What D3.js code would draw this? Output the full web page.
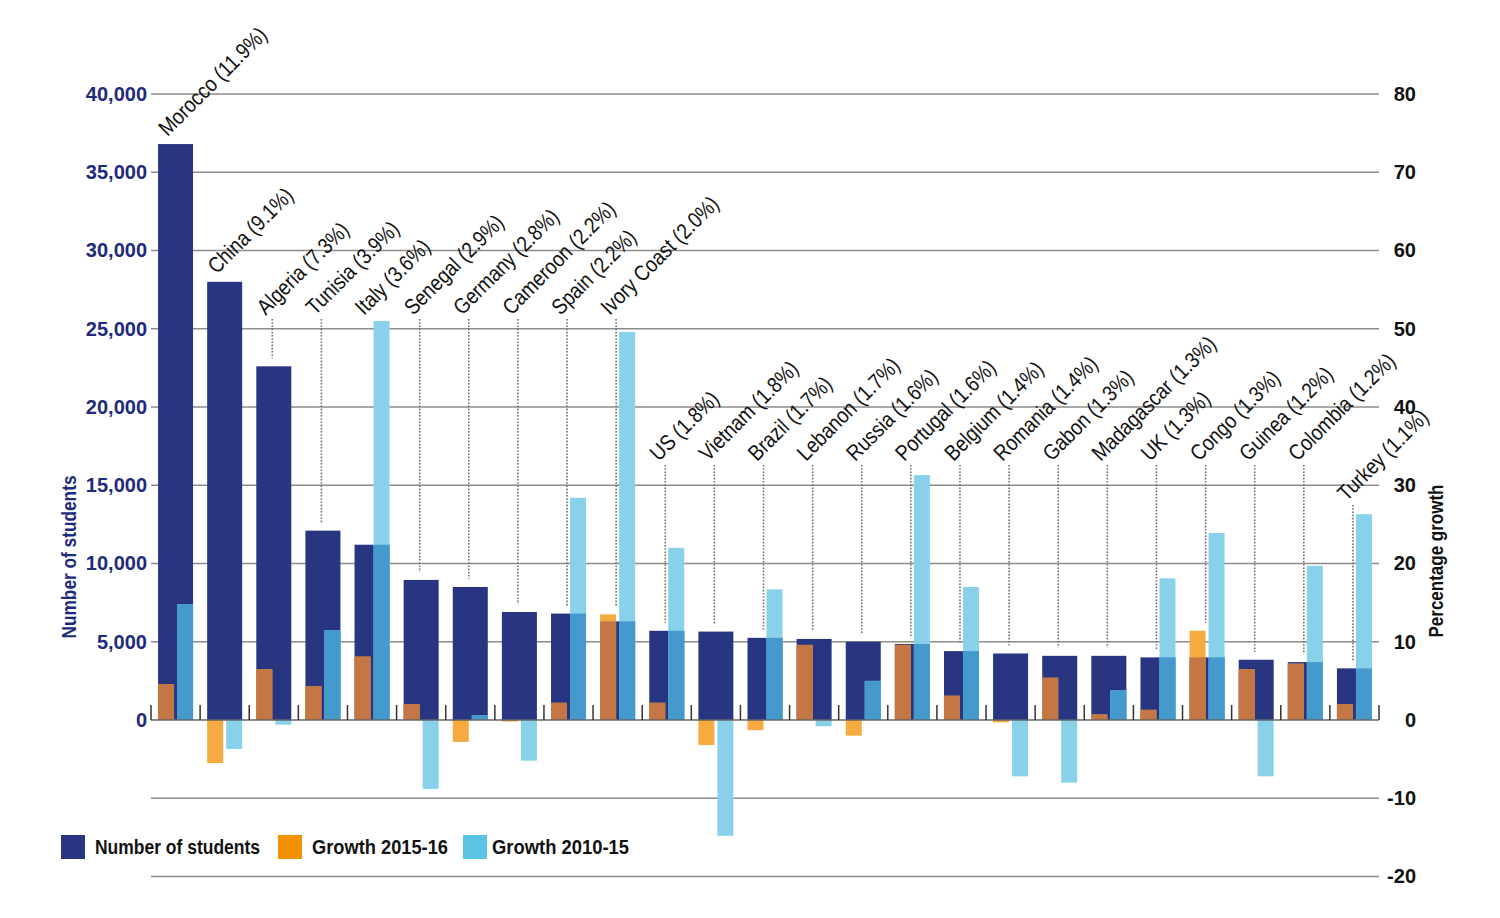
<!DOCTYPE html>
<html>
<head>
<meta charset="utf-8">
<script src="https://cdn.jsdelivr.net/npm/d3@7"></script>
<style>
    body { margin: 0; background: #fff; }
    svg { display: block; }
    .narrow, .wide { font-family: "Liberation Sans", Arial, sans-serif; }
</style>
</head>
<body>
<div id="chart"></div>
<script>
const countries = ["Morocco", "China", "Algeria", "Tunisia", "Italy", "Senegal", "Germany", "Cameroon",
    "Spain", "Ivory Coast", "US", "Vietnam", "Brazil", "Lebanon", "Russia", "Portugal", "Belgium",
    "Romania", "Gabon", "Madagascar", "UK", "Congo", "Guinea", "Colombia", "Turkey"];
const shares = ["11.9", "9.1", "7.3", "3.9", "3.6", "2.9", "2.8", "2.2", "2.2", "2.0", "1.8", "1.8",
    "1.7", "1.7", "1.6", "1.6", "1.4", "1.4", "1.3", "1.3", "1.3", "1.3", "1.2", "1.2", "1.1"];
const students = [36800, 28000, 22600, 12100, 11200, 8950, 8500, 6900, 6800, 6300, 5700, 5650,
    5250, 5180, 5000, 4860, 4400, 4250, 4100, 4100, 4000, 4000, 3850, 3700, 3300];
const growth1516 = [4.6, -5.5, 6.5, 4.3, 8.1, 2.0, -2.8, -0.2, 2.2, 13.5, 2.2, -3.2,
    -1.3, 9.6, -2.0, 9.6, 3.1, -0.3, 5.4, 0.7, 1.3, 11.4, 6.5, 7.2, 2.0];
const growth1015 = [14.8, -3.7, -0.6, 11.5, 51.0, -8.8, 0.6, -5.2, 28.4, 49.6, 22.0, -14.8,
    16.7, -0.8, 5.0, 31.3, 17.0, -7.2, -8.0, 3.8, 18.1, 23.9, -7.2, 19.7, 26.3];
const leftTicks = [0, 5000, 10000, 15000, 20000, 25000, 30000, 35000, 40000];
const rightTicks = [-20, -10, 0, 10, 20, 30, 40, 50, 60, 70, 80];
const legendItems = ["Number of students", "Growth 2015-16", "Growth 2010-15"];

const colors = {
    navy: "#283580",
    orange: "#F39200", orangeLight: "#F6AA3F", orangeDark: "#C47645",
    blue: "#5BC3E3", blueLight: "#89D1EA", blueDark: "#449ACD",
};

const width = 1500, height = 918;
const svg = d3.select("#chart").append("svg")
    .attr("width", width).attr("height", height);

const x = d3.scaleBand().domain(countries).range([151, 1379]).paddingInner(0.2875).paddingOuter(0.14375);
const yL = d3.scaleLinear().domain([-10000, 40000]).range([876.5, 94]);
const yR = d3.scaleLinear().domain([-20, 80]).range([876.5, 94]);
const y0 = yR(0);
const sub = 16;

const rows = countries.map((c, i) => ({
    name: c, share: shares[i], students: students[i], g1: growth1516[i], g2: growth1015[i], i,
}));

// gridlines
svg.append("g").selectAll("line")
    .data(rightTicks.filter((d) => d !== 0))
    .join("line")
    .attr("x1", 151).attr("x2", 1379)
    .attr("y1", (d) => yR(d)).attr("y2", (d) => yR(d))
    .attr("stroke", "#8c8c8c").attr("stroke-width", 1.5);

// left axis
const gl = svg.append("g").attr("class", "wide")
    .attr("transform", "translate(149,0)")
    .call(d3.axisLeft(yL).tickValues(leftTicks).tickFormat(d3.format(",")).tickSize(0).tickPadding(2));
gl.select(".domain").remove();
gl.selectAll("text").attr("fill", "#1e2a7a").style("font-size", "20px").style("font-weight", "bold");

// right axis
const gr = svg.append("g").attr("class", "wide")
    .attr("transform", "translate(1416,0)")
    .call(d3.axisLeft(yR).tickValues(rightTicks).tickFormat((d) => String(d)).tickSize(0).tickPadding(0));
gr.select(".domain").remove();
gr.selectAll("text").attr("fill", "#111").style("font-size", "20px").style("font-weight", "bold");

// label positions
function labelY(d) {
    if (d.i < 2) return yL(d.students) - 7;
    if (d.i < 10) return 316;
    if (d.i < 24) return 462;
    return 502;
}

// dotted leaders
const leaders = rows.filter((d) => d.i >= 2 && yR(d.g2) > labelY(d) + 10);
svg.append("g").selectAll("line")
    .data(leaders)
    .join("line")
    .attr("x1", (d) => x(d.name) + x.bandwidth() / 2 - 1.5)
    .attr("x2", (d) => x(d.name) + x.bandwidth() / 2 - 1.5)
    .attr("y1", (d) => labelY(d) + 3)
    .attr("y2", (d) => Math.min(yL(d.students), yR(d.g1)) - 8)
    .attr("stroke", "#6f6f6f").attr("stroke-width", 1.6)
    .attr("stroke-dasharray", "1.6,1.6");

// number of students
svg.append("g").selectAll("rect")
    .data(rows)
    .join("rect")
    .attr("x", (d) => x(d.name))
    .attr("width", x.bandwidth())
    .attr("y", (d) => yL(d.students))
    .attr("height", (d) => y0 - yL(d.students))
    .attr("fill", colors.navy);

// growth bars: full light bar + darker part where it sits over the navy bar
function growthBars(key, xOff, light, dark) {
    const g = svg.append("g");
    g.selectAll("rect.full")
        .data(rows)
        .join("rect")
        .attr("class", "full")
        .attr("x", (d) => x(d.name) + xOff)
        .attr("width", sub)
        .attr("y", (d) => Math.min(yR(d[key]), y0))
        .attr("height", (d) => Math.abs(yR(d[key]) - y0))
        .attr("fill", light);
    g.selectAll("rect.over")
        .data(rows.filter((d) => d[key] > 0))
        .join("rect")
        .attr("class", "over")
        .attr("x", (d) => x(d.name) + xOff)
        .attr("width", sub)
        .attr("y", (d) => Math.max(yR(d[key]), yL(d.students)))
        .attr("height", (d) => y0 - Math.max(yR(d[key]), yL(d.students)))
        .attr("fill", dark);
}
growthBars("g1", 0, colors.orangeLight, colors.orangeDark);
growthBars("g2", x.bandwidth() - sub, colors.blueLight, colors.blueDark);

// zero line and group ticks
svg.append("line")
    .attr("x1", 151).attr("x2", 1379).attr("y1", y0).attr("y2", y0)
    .attr("stroke", "#666").attr("stroke-width", 1.5);
const tickXs = d3.range(countries.length + 1).map((k) => 151 + k * x.step());
svg.append("g").selectAll("line")
    .data(tickXs)
    .join("line")
    .attr("x1", (d) => d).attr("x2", (d) => d)
    .attr("y1", y0 - 15).attr("y2", y0)
    .attr("stroke", "#333").attr("stroke-width", 1.5);

// country labels (condensed by a horizontal squeeze)
svg.append("g").attr("class", "narrow").selectAll("text")
    .data(rows)
    .join("text")
    .attr("transform", (d) => `translate(${x(d.name) + x.bandwidth() / 2 - 8},${labelY(d)}) rotate(-45) scale(0.86,1)`)
    .attr("fill", "#111")
    .style("font-size", "22px")
    .text((d) => `${d.name} (${d.share}%)`);

// axis titles
svg.append("text").attr("class", "narrow")
    .attr("transform", "translate(76,557) rotate(-90)")
    .attr("text-anchor", "middle")
    .attr("textLength", 163).attr("lengthAdjust", "spacingAndGlyphs")
    .attr("fill", "#1e2a7a")
    .style("font-size", "21px").style("font-weight", "bold")
    .text("Number of students");
svg.append("text").attr("class", "narrow")
    .attr("transform", "translate(1443,561) rotate(-90)")
    .attr("text-anchor", "middle")
    .attr("textLength", 153).attr("lengthAdjust", "spacingAndGlyphs")
    .attr("fill", "#111")
    .style("font-size", "21px").style("font-weight", "bold")
    .text("Percentage growth");

// legend
const legendX = [61, 278, 463];
const legendLen = [165, 136, 137];
const legendColors = [colors.navy, colors.orange, colors.blue];
const lg = svg.append("g").attr("class", "narrow").selectAll("g")
    .data(legendItems)
    .join("g")
    .attr("transform", (d, i) => `translate(${legendX[i]},835)`);
lg.append("rect").attr("width", 24).attr("height", 24)
    .attr("fill", (d, i) => legendColors[i]);
lg.append("text").attr("x", (d, i) => (i === 2 ? 29 : 34)).attr("y", 19)
    .attr("textLength", (d, i) => legendLen[i]).attr("lengthAdjust", "spacingAndGlyphs")
    .attr("fill", "#111")
    .style("font-size", "21px").style("font-weight", "bold")
    .text((d) => d);
</script>
</body>
</html>
